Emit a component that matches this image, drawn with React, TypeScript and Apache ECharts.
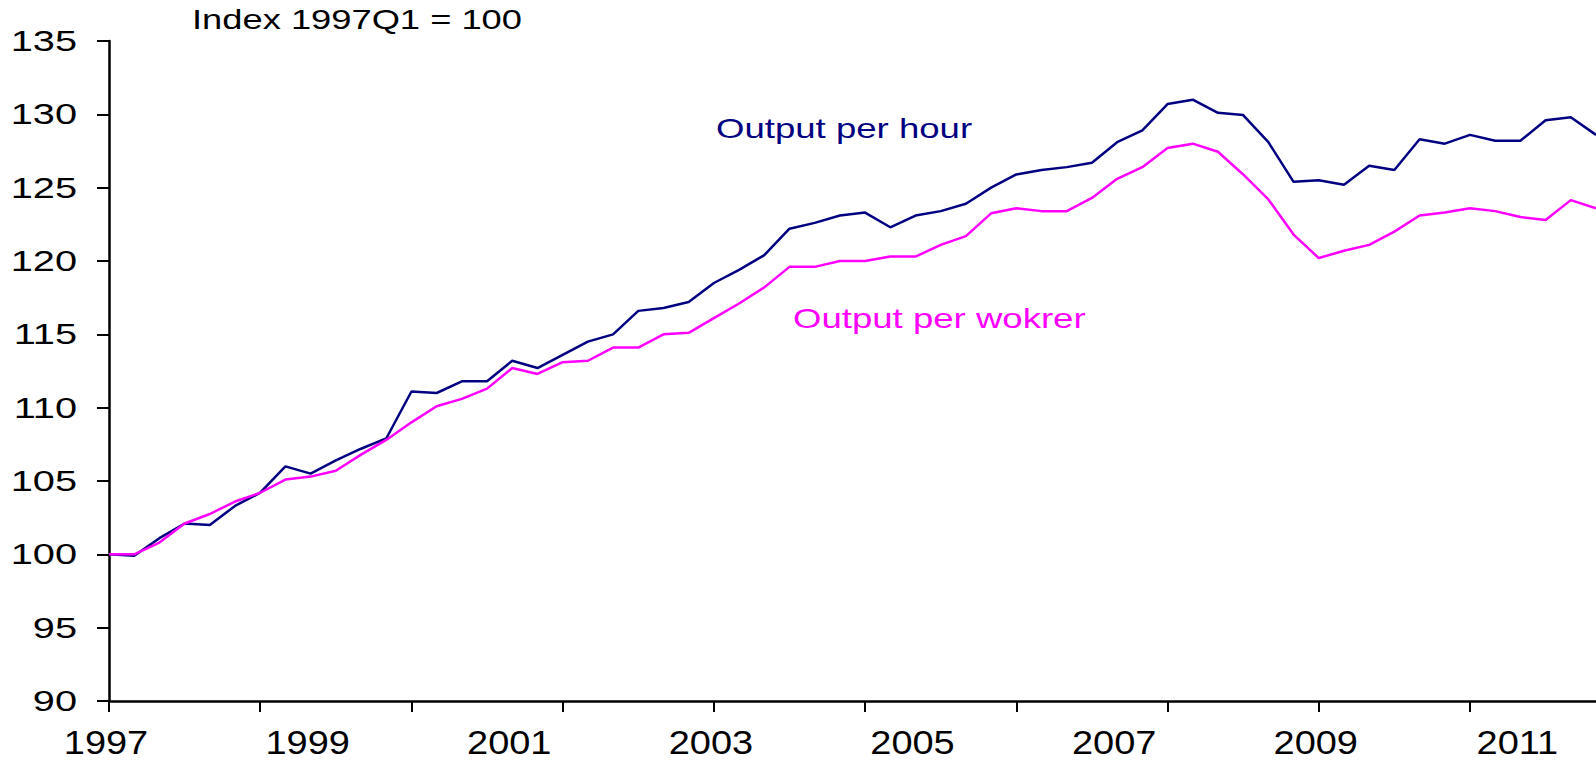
import React, { useEffect, useRef } from 'react';
import * as echarts from 'echarts';

// ---- data ----
const years = [1997, 1998, 1999, 2000, 2001, 2002, 2003, 2004, 2005, 2006, 2007, 2008, 2009, 2010, 2011];
const quarters = ['Q1', 'Q2', 'Q3', 'Q4'];
const categories = years.flatMap((y) => quarters.map((q) => `${y}${q}`));

const outputPerHour = [
  100.0, 99.9, 101.1, 102.1, 102.0, 103.3, 104.2, 106.0,
  105.5, 106.4, 107.2, 107.9, 111.1, 111.0, 111.8, 111.8,
  113.2, 112.7, 113.6, 114.5, 115.0, 116.6, 116.8, 117.2,
  118.5, 119.4, 120.4, 122.2, 122.6, 123.1, 123.3, 122.3,
  123.1, 123.4, 123.9, 125.0, 125.9, 126.2, 126.4, 126.7,
  128.1, 128.9, 130.7, 131.0, 130.1, 129.95, 128.1, 125.4,
  125.5, 125.2, 126.5, 126.2, 128.3, 128.0, 128.6, 128.2,
  128.2, 129.6, 129.8, 128.6,
];

const outputPerWorker = [
  100.0, 100.0, 100.8, 102.1, 102.75, 103.6, 104.2, 105.1,
  105.3, 105.7, 106.8, 107.8, 109.0, 110.1, 110.6, 111.3,
  112.7, 112.3, 113.1, 113.2, 114.1, 114.1, 115.0, 115.1,
  116.1, 117.1, 118.2, 119.6, 119.6, 120.0, 120.0, 120.3,
  120.3, 121.1, 121.7, 123.25, 123.6, 123.4, 123.4, 124.3,
  125.6, 126.4, 127.7, 128.0, 127.45, 125.9, 124.2, 121.8,
  120.2, 120.7, 121.1, 122.0, 123.1, 123.3, 123.6, 123.4,
  123.0, 122.8, 124.15, 123.6,
];

const yTickValues = [90, 95, 100, 105, 110, 115, 120, 125, 130, 135];
const xTickLabels = ['1997', '1999', '2001', '2003', '2005', '2007', '2009', '2011'];
const titleText = 'Index 1997Q1 = 100';
const seriesNames = ['Output per hour', 'Output per wokrer'];

const FONT = '"Liberation Sans", Arial, Helvetica, sans-serif';
const NAVY = '#000080';
const MAGENTA = '#FF00FF';

export default function App() {
  const ref = useRef<HTMLDivElement>(null);

  useEffect(() => {
    if (!ref.current) return;
    const chart = echarts.init(ref.current, undefined, { renderer: 'svg' });

    chart.setOption({
      animation: false,
      backgroundColor: '#ffffff',
      grid: { left: 109, right: -6, top: 41, bottom: 61, containLabel: false },
      xAxis: {
        type: 'category',
        data: categories,
        boundaryGap: false,
        axisLine: { show: true, onZero: false, lineStyle: { color: '#000', width: 2.5 } },
        axisTick: { show: true, interval: 5, length: 11, inside: false, lineStyle: { color: '#000', width: 2 } },
        axisLabel: { show: false },
        splitLine: { show: false },
      },
      yAxis: {
        type: 'value',
        min: 90,
        max: 135,
        interval: 5,
        axisLine: { show: true, lineStyle: { color: '#000', width: 2.5 } },
        axisTick: { show: true, length: 12, inside: false, lineStyle: { color: '#000', width: 2 } },
        axisLabel: { show: false },
        splitLine: { show: false },
      },
      series: [
        {
          name: seriesNames[0],
          type: 'line',
          data: outputPerHour,
          showSymbol: false,
          lineStyle: { color: NAVY, width: 2.5 },
          itemStyle: { color: NAVY },
          z: 2,
        },
        {
          name: seriesNames[1],
          type: 'line',
          data: outputPerWorker,
          showSymbol: false,
          lineStyle: { color: MAGENTA, width: 2.5 },
          itemStyle: { color: MAGENTA },
          z: 3,
        },
      ],
    });

    // place texts using the library's own axis scales
    const x0 = chart.convertToPixel({ xAxisIndex: 0 }, categories[0]) as number;
    const yBase = chart.convertToPixel({ yAxisIndex: 0 }, 90) as number;

    const yLabelEls = yTickValues.map((v) => ({
      type: 'text',
      silent: true,
      x: x0 - 32,
      y: chart.convertToPixel({ yAxisIndex: 0 }, v) as number,
      scaleX: 1.37,
      style: {
        text: String(v),
        fill: '#000',
        fontSize: 29,
        fontFamily: FONT,
        align: 'right',
        verticalAlign: 'middle',
      },
    }));

    const xLabelEls = xTickLabels.map((l) => ({
      type: 'text',
      silent: true,
      x: (chart.convertToPixel({ xAxisIndex: 0 }, `${l}Q1`) as number) - 3,
      y: yBase + 42,
      scaleX: 1.15,
      style: {
        text: l,
        fill: '#000',
        fontSize: 33,
        fontFamily: FONT,
        align: 'center',
        verticalAlign: 'middle',
      },
    }));

    const annotations = [
      {
        type: 'text',
        silent: true,
        x: 192,
        y: 20,
        scaleX: 1.345,
        style: { text: titleText, fill: '#000', fontSize: 27, fontFamily: FONT, align: 'left', verticalAlign: 'middle' },
      },
      {
        type: 'text',
        silent: true,
        x: 716,
        y: 128.5,
        scaleX: 1.33,
        style: { text: seriesNames[0], fill: NAVY, fontSize: 27.5, fontFamily: FONT, align: 'left', verticalAlign: 'middle' },
      },
      {
        type: 'text',
        silent: true,
        x: 793,
        y: 318.5,
        scaleX: 1.33,
        style: { text: seriesNames[1], fill: MAGENTA, fontSize: 27.5, fontFamily: FONT, align: 'left', verticalAlign: 'middle' },
      },
    ];

    chart.setOption({ graphic: [...yLabelEls, ...xLabelEls, ...annotations] });

    return () => {
      chart.dispose();
    };
  }, []);

  return (
    <div
      ref={ref}
      style={{ position: 'absolute', left: 0, top: 0, width: 1596, height: 762, overflow: 'hidden', background: '#fff' }}
    />
  );
}
